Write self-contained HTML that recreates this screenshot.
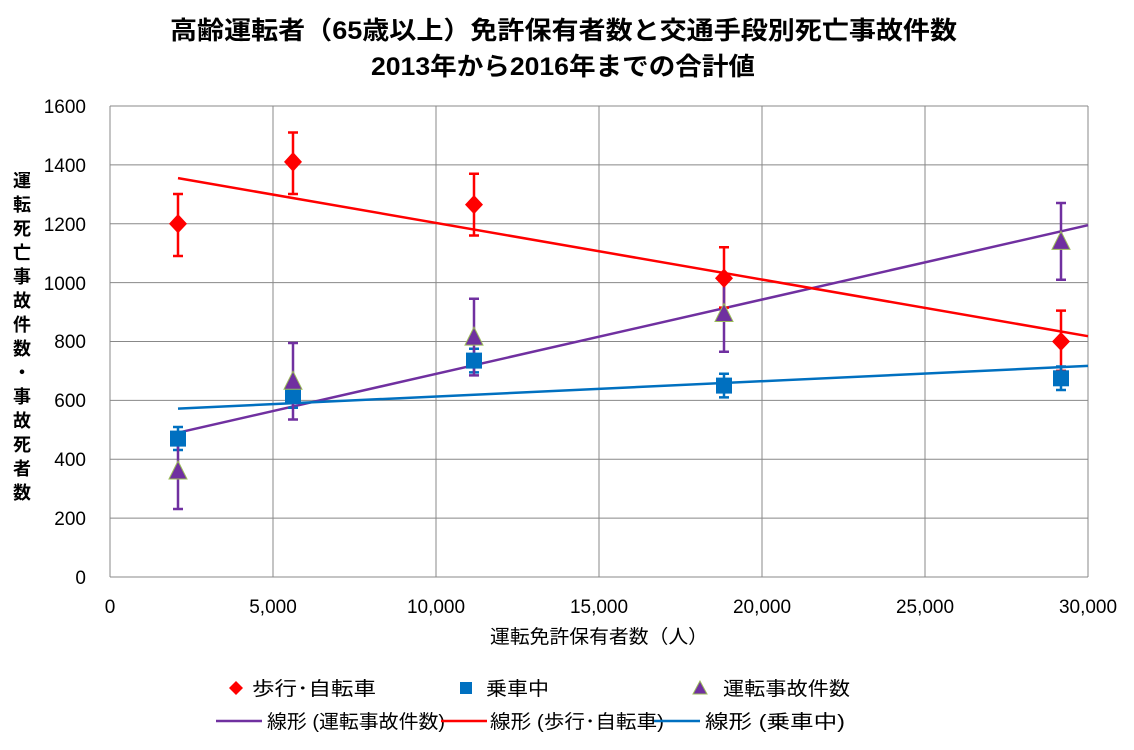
<!DOCTYPE html>
<html><head><meta charset="utf-8"><style>
html,body{margin:0;padding:0;background:#fff;}
text{font-family:"Liberation Sans","Noto Sans CJK JP",sans-serif;}
</style></head><body>
<svg width="1134" height="745" xmlns="http://www.w3.org/2000/svg">
<rect width="1134" height="745" fill="#fff"/>
<text x="170" y="39" font-size="25" font-weight="bold" textLength="787" lengthAdjust="spacingAndGlyphs">高齢運転者（65歳以上）免許保有者数と交通手段別死亡事故件数</text>
<text x="371" y="75" font-size="25" font-weight="bold" textLength="384" lengthAdjust="spacingAndGlyphs">2013年から2016年までの合計値</text>
<g stroke="#888" stroke-width="1">
<line x1="110" y1="106" x2="1088" y2="106"/><line x1="110" y1="164.9" x2="1088" y2="164.9"/>
<line x1="110" y1="223.8" x2="1088" y2="223.8"/><line x1="110" y1="282.6" x2="1088" y2="282.6"/>
<line x1="110" y1="341.5" x2="1088" y2="341.5"/><line x1="110" y1="400.4" x2="1088" y2="400.4"/>
<line x1="110" y1="459.3" x2="1088" y2="459.3"/><line x1="110" y1="518.1" x2="1088" y2="518.1"/>
<line x1="110" y1="577" x2="1088" y2="577"/>
<line x1="110" y1="106" x2="110" y2="577"/><line x1="273" y1="106" x2="273" y2="577"/>
<line x1="436" y1="106" x2="436" y2="577"/><line x1="599" y1="106" x2="599" y2="577"/>
<line x1="762" y1="106" x2="762" y2="577"/><line x1="925" y1="106" x2="925" y2="577"/>
<line x1="1088" y1="106" x2="1088" y2="577"/>
</g>
<g font-size="19" text-anchor="end">
<text x="86" y="113">1600</text><text x="86" y="172">1400</text><text x="86" y="231">1200</text>
<text x="86" y="290">1000</text><text x="86" y="348">800</text><text x="86" y="407">600</text>
<text x="86" y="466">400</text><text x="86" y="525">200</text><text x="86" y="584">0</text>
</g>
<g font-size="19" text-anchor="middle">
<text x="110" y="613">0</text><text x="273" y="613">5,000</text><text x="436" y="613">10,000</text>
<text x="599" y="613">15,000</text><text x="762" y="613">20,000</text><text x="925" y="613">25,000</text>
<text x="1088" y="613">30,000</text>
</g>
<text x="490" y="643" font-size="19" textLength="218" lengthAdjust="spacingAndGlyphs">運転免許保有者数（人）</text>
<g font-size="18" font-weight="bold" text-anchor="middle">
<text x="22" y="187">運</text><text x="22" y="211">転</text><text x="22" y="235">死</text><text x="22" y="259">亡</text>
<text x="22" y="283">事</text><text x="22" y="307">故</text><text x="22" y="331">件</text><text x="22" y="355">数</text>
<text x="22" y="379">・</text><text x="22" y="403">事</text><text x="22" y="427">故</text><text x="22" y="451">死</text>
<text x="22" y="475">者</text><text x="22" y="499">数</text>
</g>
<line x1="178" y1="432.7" x2="1088" y2="225.2" stroke="#7030a0" stroke-width="2.5"/>
<line x1="178" y1="178.1" x2="1088" y2="336.2" stroke="#ff0000" stroke-width="2.5"/>
<line x1="178" y1="408.6" x2="1088" y2="365.9" stroke="#0070c0" stroke-width="2.5"/>
<g stroke="#ff0000" stroke-width="2.5">
<path d="M178 256V194M173 256h10M173 194h10"/>
<path d="M293 194V132.5M288 194h10M288 132.5h10"/>
<path d="M474 235.5V173.7M469 235.5h10M469 173.7h10"/>
<path d="M724 307.6V247.3M719 307.6h10M719 247.3h10"/>
<path d="M1061 370.9V310.6M1056 370.9h10M1056 310.6h10"/>
</g>
<g stroke="#0070c0" stroke-width="2.5">
<path d="M178 450V427M173 450h10M173 427h10"/>
<path d="M293 407.7V384M288 407.7h10M288 384h10"/>
<path d="M474 372.4V348.8M469 372.4h10M469 348.8h10"/>
<path d="M724 397.4V373.8M719 397.4h10M719 373.8h10"/>
<path d="M1061 390V366.5M1056 390h10M1056 366.5h10"/>
</g>
<g stroke="#7030a0" stroke-width="2.5">
<path d="M178 509V433M173 509h10"/>
<path d="M293 419.5V343M288 419.5h10M288 343h10"/>
<path d="M474 375.4V298.8M469 375.4h10M469 298.8h10"/>
<path d="M724 351.8V275.2M719 351.8h10M719 275.2h10"/>
<path d="M1061 279.7V203M1056 279.7h10M1056 203h10"/>
</g>
<g fill="#ff0000">
<path d="M178 214l9 9.7-9 9.7-9-9.7z"/><path d="M293 152l9 9.9-9 9.9-9-9.9z"/>
<path d="M474 195l9 9.6-9 9.6-9-9.6z"/><path d="M724 268.5l9 9.7-9 9.7-9-9.7z"/>
<path d="M1061 332l9 9.5-9 9.5-9-9.5z"/>
</g>
<g fill="#0070c0">
<rect x="170" y="430.6" width="16" height="16"/><rect x="285" y="387.9" width="16" height="16"/>
<rect x="466" y="352.6" width="16" height="16"/><rect x="716" y="377.6" width="16" height="16"/>
<rect x="1053" y="370.3" width="16" height="16"/>
</g>
<g fill="#7030a0" stroke="#9bbb59" stroke-width="1">
<path d="M178 461l-9 18h18z"/><path d="M293 371.2l-9 18h18z"/>
<path d="M474 327.1l-9 18h18z"/><path d="M724 303.5l-9 18h18z"/>
<path d="M1061 231.4l-9 18h18z"/>
</g>
<path d="M236 681l7 7-7 7-7-7z" fill="#ff0000"/>
<text x="252" y="695" font-size="19" textLength="124" lengthAdjust="spacingAndGlyphs">歩行･自転車</text>
<rect x="460" y="682" width="12" height="12" fill="#0070c0"/>
<text x="486" y="695" font-size="19" textLength="63" lengthAdjust="spacingAndGlyphs">乗車中</text>
<path d="M700 681l-7 13h14z" fill="#7030a0" stroke="#9bbb59"/>
<text x="723" y="695" font-size="19" textLength="127" lengthAdjust="spacingAndGlyphs">運転事故件数</text>
<line x1="216" y1="721" x2="262" y2="721" stroke="#7030a0" stroke-width="2.5"/>
<text x="267" y="728" font-size="19" textLength="178" lengthAdjust="spacingAndGlyphs">線形 (運転事故件数)</text>
<line x1="441" y1="721" x2="487" y2="721" stroke="#ff0000" stroke-width="2.5"/>
<text x="490" y="728" font-size="19" textLength="174" lengthAdjust="spacingAndGlyphs">線形 (歩行･自転車)</text>
<line x1="654" y1="721" x2="700" y2="721" stroke="#0070c0" stroke-width="2.5"/>
<text x="705" y="728" font-size="19" textLength="140" lengthAdjust="spacingAndGlyphs">線形 (乗車中)</text>
</svg>
</body></html>
